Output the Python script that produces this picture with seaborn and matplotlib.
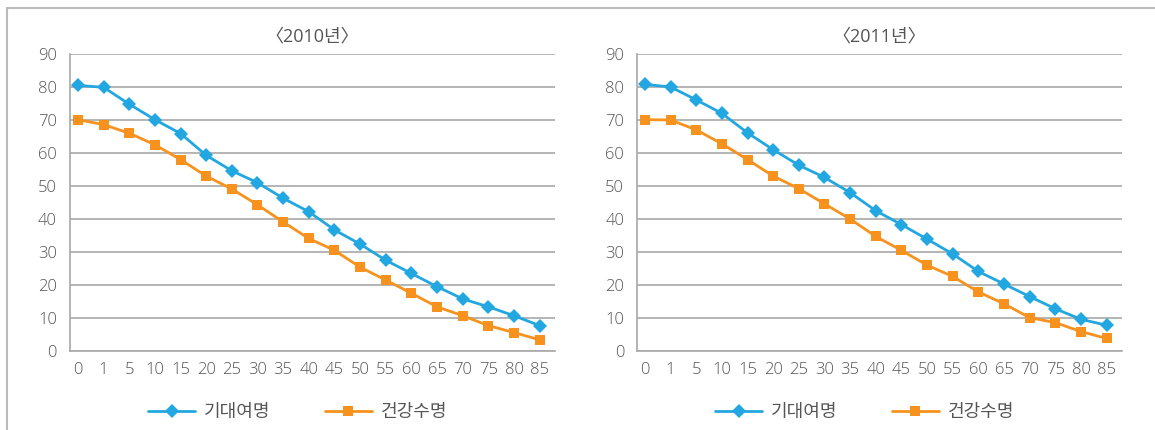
import numpy as np
import pandas as pd
import matplotlib
matplotlib.use("Agg")
import matplotlib.pyplot as plt
from matplotlib.lines import Line2D
import seaborn as sns

# age groups on the x axis
ages = ["0", "1", "5", "10", "15", "20", "25", "30", "35", "40",
        "45", "50", "55", "60", "65", "70", "75", "80", "85"]

# 2010
life_2010 = [80.5, 79.9, 74.8, 70.1, 65.9, 59.3, 54.6, 51.0, 46.3, 42.2,
             36.7, 32.4, 27.5, 23.5, 19.5, 15.8, 13.4, 10.7, 7.7]
healthy_2010 = [70.1, 68.6, 66.0, 62.5, 58.0, 53.0, 49.1, 44.3, 39.1, 34.1,
                30.5, 25.4, 21.5, 17.5, 13.4, 10.7, 7.7, 5.6, 3.4]

# 2011
life_2011 = [80.8, 80.0, 76.1, 72.0, 66.1, 61.0, 56.3, 52.6, 48.0, 42.5,
             38.3, 33.9, 29.4, 24.1, 20.3, 16.5, 12.8, 9.6, 7.8]
healthy_2011 = [70.1, 70.0, 67.0, 62.8, 58.0, 53.0, 49.2, 44.6, 40.0, 34.7,
                30.5, 26.0, 22.6, 17.9, 14.3, 10.1, 8.6, 5.9, 3.8]

years = ["〈2010년〉", "〈2011년〉"]
series_names = ["기대여명", "건강수명"]

BLUE = "#22A7E0"
ORANGE = "#F7921E"
GRID = "#A8A8A8"
TEXT = "#555555"

sns.set_theme(style="white")
plt.rcParams["font.family"] = ["Open Sans", "Noto Sans CJK KR", "DejaVu Sans"]
plt.rcParams["font.weight"] = "light"

fig = plt.figure(figsize=(11.55, 4.30), dpi=100)

# outer frame: left and top edges only
fig.add_artist(Line2D([7 / 1155, 7 / 1155], [0, 1 - 8 / 430],
                      transform=fig.transFigure, color="#BBBBBB", lw=1.5))
fig.add_artist(Line2D([7 / 1155, 1], [1 - 8 / 430, 1 - 8 / 430],
                      transform=fig.transFigure, color="#BBBBBB", lw=1.5))

panels = [
    (years[0], life_2010, healthy_2010, [69.5 / 1155, 1 - 351 / 430, 485.5 / 1155, 297 / 430]),
    (years[1], life_2011, healthy_2011, [636.5 / 1155, 1 - 351 / 430, 485.5 / 1155, 297 / 430]),
]

for title, life, healthy, rect in panels:
    ax = fig.add_axes(rect)
    df = pd.DataFrame({
        "pos": list(range(len(ages))) * 2,
        "value": life + healthy,
        "series": [series_names[0]] * len(ages) + [series_names[1]] * len(ages),
    })
    sns.lineplot(data=df, x="pos", y="value", hue="series", style="series",
                 markers={series_names[0]: "D", series_names[1]: "s"},
                 dashes=False, palette=[BLUE, ORANGE], markersize=7,
                 markeredgewidth=0, linewidth=2, sort=False, legend=False,
                 ax=ax)

    ax.set_xlim(-0.33, 18.6)
    ax.set_ylim(0, 90)
    ax.set_yticks(range(0, 91, 10))
    ax.set_xticks(range(len(ages)))
    ax.set_xticklabels(ages)
    ax.set_xlabel("")
    ax.set_ylabel("")
    ax.yaxis.grid(True, color=GRID, lw=1.2)
    ax.set_axisbelow(True)
    for side in ["top", "right"]:
        ax.spines[side].set_visible(False)
    for side in ["left", "bottom"]:
        ax.spines[side].set_color(GRID)
        ax.spines[side].set_linewidth(1.2)
    ax.tick_params(axis="y", length=4, color=GRID, width=1.2, pad=5,
                   labelsize=12, labelcolor=TEXT)
    ax.tick_params(axis="x", length=0, pad=8, labelsize=12, labelcolor=TEXT)
    ax.set_title(title, fontsize=13, color=TEXT, pad=9)

    handles = [
        Line2D([], [], color=BLUE, marker="D", markersize=7, markeredgewidth=0, lw=2),
        Line2D([], [], color=ORANGE, marker="s", markersize=7, markeredgewidth=0, lw=2),
    ]
    leg = ax.legend(handles, series_names, loc="upper center",
                    bbox_to_anchor=(0.47, -0.12), ncol=2, frameon=False,
                    fontsize=13, handlelength=2.6, columnspacing=3.0,
                    handletextpad=0.5)
    for t in leg.get_texts():
        t.set_color(TEXT)

fig.savefig("out.png", dpi=100)
